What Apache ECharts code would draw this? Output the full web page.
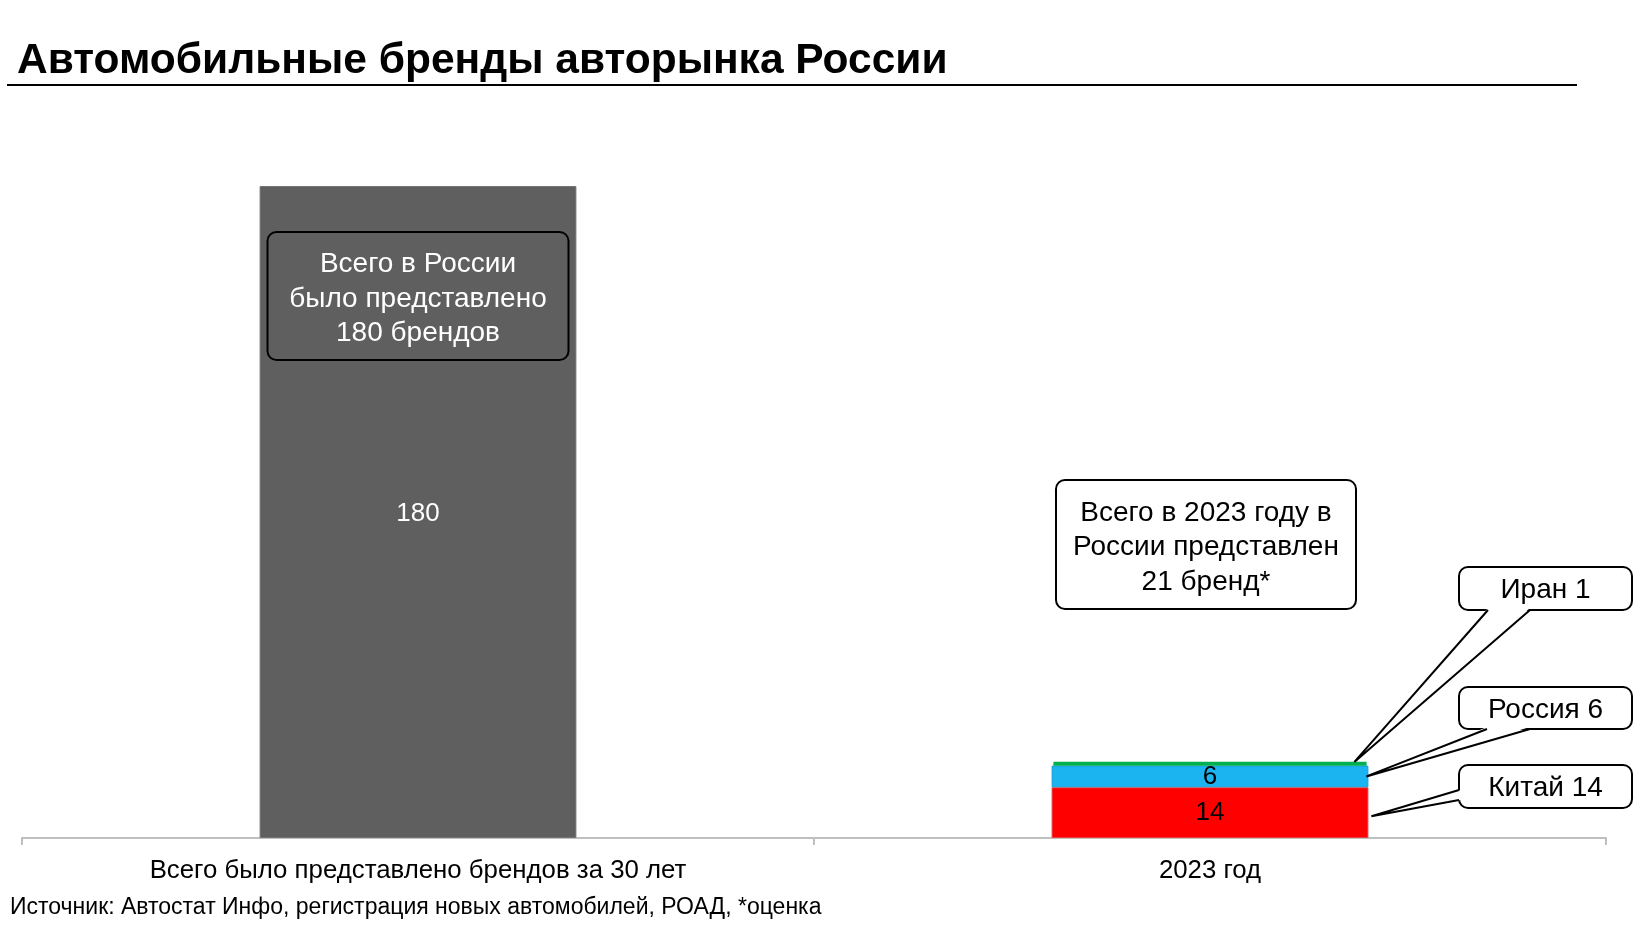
<!DOCTYPE html>
<html><head><meta charset="utf-8">
<script src="https://cdn.jsdelivr.net/npm/echarts@6/dist/echarts.min.js"></script>
<style>html,body{margin:0;padding:0;background:#fff}#c{width:1648px;height:927px}</style>
</head><body><div id="c"></div>
<script>
const titleText = 'Автомобильные бренды авторынка России';
const sourceText = 'Источник: Автостат Инфо, регистрация новых автомобилей, РОАД, *оценка';
const categories = ['Всего было представлено брендов за 30 лет', '2023 год'];
const totalAll = [180, '-'];
const china = ['-', 14];
const russia = ['-', 6];
const iran = ['-', 1];
const seriesNames = ['Всего', 'Китай', 'Россия', 'Иран'];
const noteAll = ['Всего в России', 'было представлено', '180 брендов'];
const note2023 = ['Всего в 2023 году в', 'России представлен', '21 бренд*'];

const FONT = '"Liberation Sans", Arial, sans-serif';
const chart = echarts.init(document.getElementById('c'), null, {renderer: 'canvas'});

const baseLabel = {show: true, position: 'inside', fontSize: 26, fontFamily: FONT, color: '#000'};
const option = {
  backgroundColor: '#fff',
  animation: false,
  title: {
    text: titleText, left: 12, top: 33,
    textStyle: {fontSize: 42.5, fontWeight: 'bold', fontFamily: FONT, color: '#000', lineHeight: 46}
  },
  grid: {left: 22, right: 42, top: 186, bottom: 89, containLabel: false},
  xAxis: {
    type: 'category', data: categories,
    axisLine: {lineStyle: {color: '#bfbfbf', width: 2}},
    axisTick: {show: true, length: 7, lineStyle: {color: '#bfbfbf', width: 2}},
    axisLabel: {fontSize: 25.8, fontFamily: FONT, color: '#000', margin: 20}
  },
  yAxis: {type: 'value', min: 0, max: 180, show: false, splitLine: {show: false}},
  series: [
    {name: seriesNames[0], type: 'bar', stack: 's', data: totalAll, barWidth: '40%',
     itemStyle: {color: '#5f5f5f', borderColor: '#747474', borderWidth: 1},
     label: Object.assign({}, baseLabel, {color: '#fff', offset: [0, 2]})},
    {name: seriesNames[1], type: 'bar', stack: 's', data: china, barWidth: '40%',
     itemStyle: {color: '#ff0000', borderColor: '#e84040', borderWidth: 1},
     label: baseLabel},
    {name: seriesNames[2], type: 'bar', stack: 's', data: russia, barWidth: '40%',
     itemStyle: {color: '#1cb4f0', borderColor: '#15a0dc', borderWidth: 1},
     label: baseLabel},
    {name: seriesNames[3], type: 'bar', stack: 's', data: iran, barWidth: '40%',
     itemStyle: {color: '#00b050', borderColor: '#00b050', borderWidth: 4},
     label: {show: false}}
  ]
};
chart.setOption(option);

// Annotations anchored to the axes
const p0 = chart.convertToPixel({xAxisIndex: 0, yAxisIndex: 0}, [0, 0]);
const p1 = chart.convertToPixel({xAxisIndex: 0, yAxisIndex: 0}, [1, 0]);
const band = p1[0] - p0[0];
const hw = band * 0.2;
const yOf = v => chart.convertToPixel({yAxisIndex: 0}, v);
const graphics = [];

graphics.push({type: 'line', shape: {x1: 7, y1: 85, x2: 1577, y2: 85}, style: {stroke: '#000', lineWidth: 2}});
graphics.push({type: 'text', style: {text: sourceText, x: 10, y: 908, fontSize: 23, fontFamily: FONT, fill: '#000', verticalAlign: 'middle'}});

function noteBox(cx, top, w, h, lines, fill, color, lh, dy) {
  graphics.push({type: 'rect', z: 10, shape: {x: cx - w / 2, y: top, width: w, height: h, r: 9}, style: {fill: fill, stroke: '#000', lineWidth: 2}});
  const mid = top + h / 2 + dy;
  lines.forEach((t, i) => {
    graphics.push({type: 'text', z: 11, style: {text: t, x: cx, y: mid + (i - (lines.length - 1) / 2) * lh, align: 'center', verticalAlign: 'middle', fontSize: 28, fontFamily: FONT, fill: color}});
  });
}
noteBox(p0[0], 232, 301, 128, noteAll, '#5f5f5f', '#fff', 34.5, 3);
noteBox(p1[0] - 4, 480, 300, 129, note2023, '#fff', '#000', 34.5, 3);

function callout(text, box, b1, b2, tip) {
  graphics.push({type: 'rect', z: 10, shape: {x: box[0], y: box[1], width: box[2], height: box[3], r: 9}, style: {fill: '#fff', stroke: '#000', lineWidth: 2}});
  const inset = b1[1] === b2[1] ? [0, -2] : [2, 0];
  graphics.push({type: 'polygon', z: 11, shape: {points: [[b1[0] + inset[0], b1[1] + inset[1]], tip, [b2[0] + inset[0], b2[1] + inset[1]]]}, style: {fill: '#fff', stroke: null}});
  graphics.push({type: 'polyline', z: 12, shape: {points: [b1, tip, b2]}, style: {stroke: '#000', lineWidth: 2, fill: null}});
  graphics.push({type: 'text', z: 13, style: {text: text, x: box[0] + box[2] / 2, y: box[1] + box[3] / 2 + 2, align: 'center', verticalAlign: 'middle', fontSize: 28, fontFamily: FONT, fill: '#000'}});
}
const right = p1[0] + hw;
callout(seriesNames[3] + ' ' + iran[1], [1459, 567, 173, 43], [1488, 610], [1530, 610], [right - 14, yOf(china[1] + russia[1] + iran[1])]);
callout(seriesNames[2] + ' ' + russia[1], [1459, 687, 173, 42], [1487, 729], [1530, 729], [right - 2, yOf(china[1] + russia[1] / 2)]);
callout(seriesNames[1] + ' ' + china[1], [1459, 765, 173, 43], [1459, 790], [1459, 800], [right + 3, yOf(china[1] * 0.43)]);

chart.setOption({graphic: {elements: graphics}});
</script></body></html>
